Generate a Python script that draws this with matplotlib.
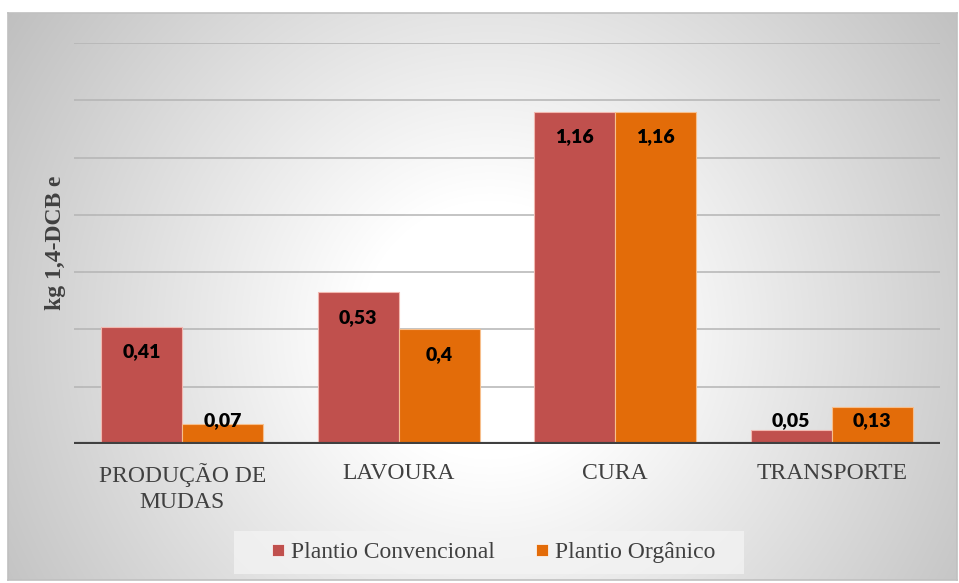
import numpy as np
import matplotlib
matplotlib.use("Agg")
import matplotlib.pyplot as plt
from matplotlib.lines import Line2D
from matplotlib.patches import Rectangle
from matplotlib.font_manager import FontProperties

categories = ["PRODUÇÃO DE\nMUDAS", "LAVOURA", "CURA", "TRANSPORTE"]
convencional = [0.41, 0.53, 1.16, 0.05]
organico = [0.07, 0.40, 1.16, 0.13]
series_names = ["Plantio Convencional", "Plantio Orgânico"]
ylabel = "kg 1,4-DCB e"

RED = "#C0504D"
ORANGE = "#E36C09"
TXT = "#404040"

SERIF = "/usr/share/fonts/truetype/liberation/LiberationSerif-Regular.ttf"
SERIF_B = "/usr/share/fonts/truetype/liberation/LiberationSerif-Bold.ttf"
fp_tick = FontProperties(fname=SERIF, size=17)
fp_leg = FontProperties(fname=SERIF, size=17)
fp_ylab = FontProperties(fname=SERIF_B, size=17)

W, H = 959, 583
fig = plt.figure(figsize=(W / 100, H / 100), dpi=100)
fig.patch.set_facecolor("white")

# background box with radial gradient
bx0, bx1, by0, by1 = 8, 957, 13, 580
bg = fig.add_axes([bx0 / W, 1 - by1 / H, (bx1 - bx0) / W, (by1 - by0) / H])
bg.set_zorder(-2)
nx, ny = bx1 - bx0, by1 - by0
xx, yy = np.meshgrid(np.arange(nx) + bx0, np.arange(ny) + by0)
d = np.sqrt((xx - 490) ** 2 + (yy - 330) ** 2)
val = 1 - 0.24 * np.clip((d - 130) / (560 - 130), 0, 1.1)
img = np.dstack([val, val, val])
bg.imshow(img, aspect="auto", extent=[0, 1, 0, 1], origin="upper", interpolation="bilinear")
bg.set_xlim(0, 1)
bg.set_ylim(0, 1)
for s in bg.spines.values():
    s.set_color("#c0c0c0")
    s.set_linewidth(1.2)
bg.set_xticks([])
bg.set_yticks([])

# legend background box
fig.patches.append(Rectangle((234 / W, 1 - 574 / H), (744 - 234) / W, (574 - 531) / H,
                             transform=fig.transFigure, facecolor="#f4f4f4", alpha=0.75,
                             edgecolor="none", zorder=-1))

# main axes
left, right, top, bottom = 74, 940, 43, 444
ax = fig.add_axes([left / W, 1 - bottom / H, (right - left) / W, (bottom - top) / H])
ax.patch.set_alpha(0)
ax.set_ylim(0, 1.4)
x = np.arange(len(categories))
ax.set_xlim(-0.5, len(categories) - 0.5)
for g in np.arange(0.2, 1.41, 0.2):
    ax.axhline(g, color="#b4b4b4", lw=1.1, zorder=0)

bw = 0.375
ax.bar(x - bw / 2, convencional, bw, color=RED, edgecolor="#f2b8b0", linewidth=0.8, zorder=2)
ax.bar(x + bw / 2, organico, bw, color=ORANGE, edgecolor="#f7bf8c", linewidth=0.8, zorder=2)
ax.axhline(0, color="#404040", lw=3, zorder=3, solid_capstyle="butt")

def fmt(v):
    s = ("%.2f" % v).rstrip("0").rstrip(".")
    return s.replace(".", ",")

for xs, vals in ((x - bw / 2, convencional), (x + bw / 2, organico)):
    for xi, v in zip(xs, vals):
        if v >= 0.168:
            ax.annotate(fmt(v), (xi, v), xytext=(0, -18), textcoords="offset points",
                        ha="center", va="center", fontsize=14, fontweight="heavy",
                        family="Lato", color="black", zorder=4)
        else:
            ax.annotate(fmt(v), (xi, 0), xytext=(0, 16.5), textcoords="offset points",
                        ha="center", va="center", fontsize=14, fontweight="heavy",
                        family="Lato", color="black", zorder=4)

ax.set_xticks(x)
ax.set_xticklabels(categories, fontproperties=fp_tick, color=TXT, linespacing=1.3)
ax.tick_params(axis="x", length=0, pad=14)
ax.set_yticks([])
for s in ax.spines.values():
    s.set_visible(False)

fig.text(56 / W, 1 - 243 / H, ylabel, rotation=90, ha="center", va="center",
         fontproperties=fp_ylab, color=TXT)

handles = [Line2D([], [], marker="s", ls="none", markersize=8, color=RED, markeredgecolor="white", markeredgewidth=0.5),
           Line2D([], [], marker="s", ls="none", markersize=8, color=ORANGE, markeredgecolor="white", markeredgewidth=0.5)]
leg = fig.legend(handles, series_names, loc="center", bbox_to_anchor=(491 / W, 1 - 552 / H),
                 ncol=2, frameon=False, handletextpad=0.05, columnspacing=1.5,
                 handlelength=1.0, borderpad=0.3, prop=fp_leg)
for t in leg.get_texts():
    t.set_color(TXT)

fig.savefig("out.png", dpi=100)
